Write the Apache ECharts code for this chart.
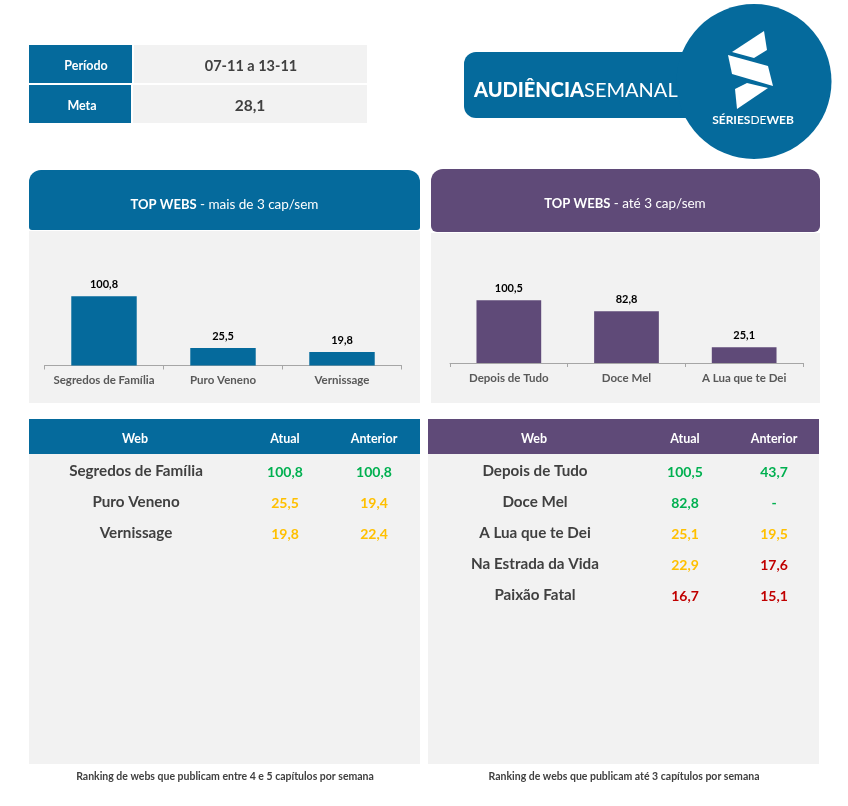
<!DOCTYPE html>
<html><head><meta charset="utf-8">
<style>html,body{margin:0;padding:0;background:#fff}#c{width:848px;height:806px}</style>
<script src="https://cdn.jsdelivr.net/npm/echarts@6/dist/echarts.min.js"></script>
</head><body><div id="c"></div>
<script>
const leftNames=['Segredos de Família','Puro Veneno','Vernissage'];
const leftValues=[100.8,25.5,19.8];
const rightNames=['Depois de Tudo','Doce Mel','A Lua que te Dei'];
const rightValues=[100.5,82.8,25.1];
const leftTableNames=['Segredos de Família','Puro Veneno','Vernissage'];
const leftAtual=['100,8','25,5','19,8'];
const leftAnterior=['100,8','19,4','22,4'];
const rightTableNames=['Depois de Tudo','Doce Mel','A Lua que te Dei','Na Estrada da Vida','Paixão Fatal'];
const rightAtual=['100,5','82,8','25,1','22,9','16,7'];
const rightAnterior=['43,7','-','19,5','17,6','15,1'];
const periodo='07-11 a 13-11';
const meta='28,1';

const BLUE='#056a9c',PURPLE='#5f4a78',GRAY='#f2f2f2',TXT='#404040';
const FONT='Lato';
const GREEN='#00b050',YEL='#ffc000',RED='#c00000';
function col(v){ if(v==='-')return GREEN; const n=parseFloat(v.replace(',','.')); return n>=28.1?GREEN:(n>=18?YEL:RED); }
const rect=(x,y,w,h,fill,r)=>({type:'rect',silent:true,shape:{x,y,width:w,height:h,r:r||0},style:{fill},z:1});
const txt=(x,y,text,size,fill,weight)=>({type:'text',silent:true,x,y,z:5,style:{text,x:0,y:0,align:'center',verticalAlign:'middle',font:`${weight||'normal'} ${size}px ${FONT}`,fill}});
const poly=(pts)=>({type:'polygon',silent:true,shape:{points:pts},style:{fill:'#fff'},z:5});

const g=[
 rect(29,45,103,38,BLUE),rect(134,45,233,38,GRAY),
 rect(29,85,102,38,BLUE),rect(133,85,234,38,GRAY),
 txt(86,65.5,'Período',12.5,'#fff','bold'),txt(82,105.5,'Meta',12.5,'#fff','bold'),
 txt(251,66,periodo,14.5,TXT,'bold'),txt(250,106,meta,15.5,TXT,'bold'),
 rect(464,52,240,66,BLUE,12),
 {type:'circle',silent:true,shape:{cx:754,cy:81.5,r:77.5},style:{fill:BLUE},z:2},
 poly([[764,31],[767,50],[754,58],[732,52]]),
 poly([[728,55],[768,66],[773,86],[732,74]]),
 poly([[735,89],[747,83],[768,88],[737,109]]),
 {type:'text',silent:true,x:474,y:91,z:5,style:{x:0,y:0,verticalAlign:'middle',rich:{a:{font:`900 20px ${FONT}`,fill:'#fff'},b:{font:`normal 20px ${FONT}`,fill:'#fff'}},text:'{a|AUDIÊNCIA}{b|SEMANAL}'}},
 {type:'text',silent:true,x:753,y:120,z:5,style:{x:0,y:0,align:'center',verticalAlign:'middle',rich:{a:{font:`bold 12px ${FONT}`,fill:'#fff'},b:{font:`normal 12px ${FONT}`,fill:'#fff'}},text:'{a|SÉRIES}{b|DE}{a|WEB}'}},

 rect(29,170,391,60,BLUE,[12,12,3,3]),rect(29,231,391,172,GRAY),
 rect(431,169,389,63,PURPLE,[12,12,6,6]),rect(431,233,389,170,GRAY),
 {type:'text',silent:true,x:224.5,y:205,z:5,style:{x:0,y:0,align:'center',verticalAlign:'middle',rich:{a:{font:`bold 13px ${FONT}`,fill:'#fff'},b:{font:`normal 13.5px ${FONT}`,fill:'#fff'}},text:'{a|TOP WEBS} {b|- mais de 3 cap/sem}'}},
 {type:'text',silent:true,x:625,y:204,z:5,style:{x:0,y:0,align:'center',verticalAlign:'middle',rich:{a:{font:`bold 13px ${FONT}`,fill:'#fff'},b:{font:`normal 13.5px ${FONT}`,fill:'#fff'}},text:'{a|TOP WEBS} {b|- até 3 cap/sem}'}},

 rect(29,419,391,35,BLUE),rect(29,454,391,310,GRAY),
 rect(428,419,391,35,PURPLE),rect(428,454,391,310,GRAY),
 txt(135,438.5,'Web',12.5,'#fff','bold'),txt(285,438.5,'Atual',12.5,'#fff','bold'),txt(374,438.5,'Anterior',12.5,'#fff','bold'),
 txt(534,438.5,'Web',12.5,'#fff','bold'),txt(685,438.5,'Atual',12.5,'#fff','bold'),txt(774,438.5,'Anterior',12.5,'#fff','bold'),
 txt(225,776.5,'Ranking de webs que publicam entre 4 e 5 capítulos por semana',10.5,TXT,'bold'),
 txt(624,776.5,'Ranking de webs que publicam até 3 capítulos por semana',10.5,TXT,'bold')
];
function rows(names,a,b,xn,xa,xb){
  names.forEach((n,i)=>{
    const y=471.5+31*i;
    g.push(txt(xn,y,n,15.2,TXT,'bold'));
    g.push(txt(xa,y+0.5,a[i],14,col(a[i]),'bold'));
    g.push(txt(xb,y+0.5,b[i],14,col(b[i]),'bold'));
  });
}
rows(leftTableNames,leftAtual,leftAnterior,136,285,374);
rows(rightTableNames,rightAtual,rightAnterior,535,685,774);

const fmt=p=>String(p.value).replace('.',',');
function xa(i,names){return {type:'category',gridIndex:i,data:names,z:3,
  axisLine:{lineStyle:{color:'#a6a6a6',width:1}},axisTick:{show:true,length:4,alignWithLabel:false,lineStyle:{color:'#a6a6a6'}},
  axisLabel:{color:'#595959',fontFamily:FONT,fontWeight:'bold',fontSize:11.5,margin:9,interval:0}};}
function ya(i){return {type:'value',gridIndex:i,min:0,max:120,show:false};}
function s(i,vals,color){return {type:'bar',xAxisIndex:i,yAxisIndex:i,data:vals,barWidth:'55%',itemStyle:{color},z:4,silent:true,
  label:{show:true,position:'top',distance:6,formatter:fmt,color:'#000',fontFamily:FONT,fontWeight:'bold',fontSize:11}};}
const chart=echarts.init(document.getElementById('c'),null,{renderer:'canvas'});
chart.setOption({animation:false,backgroundColor:'#fff',
  graphic:{elements:g},
  grid:[{left:44.5,width:357,top:283,height:82.5,containLabel:false},{left:450,width:353,top:288,height:75,containLabel:false}],
  xAxis:[xa(0,leftNames),xa(1,rightNames)],yAxis:[ya(0),ya(1)],
  series:[s(0,leftValues,BLUE),s(1,rightValues,PURPLE)]
});
</script></body></html>
